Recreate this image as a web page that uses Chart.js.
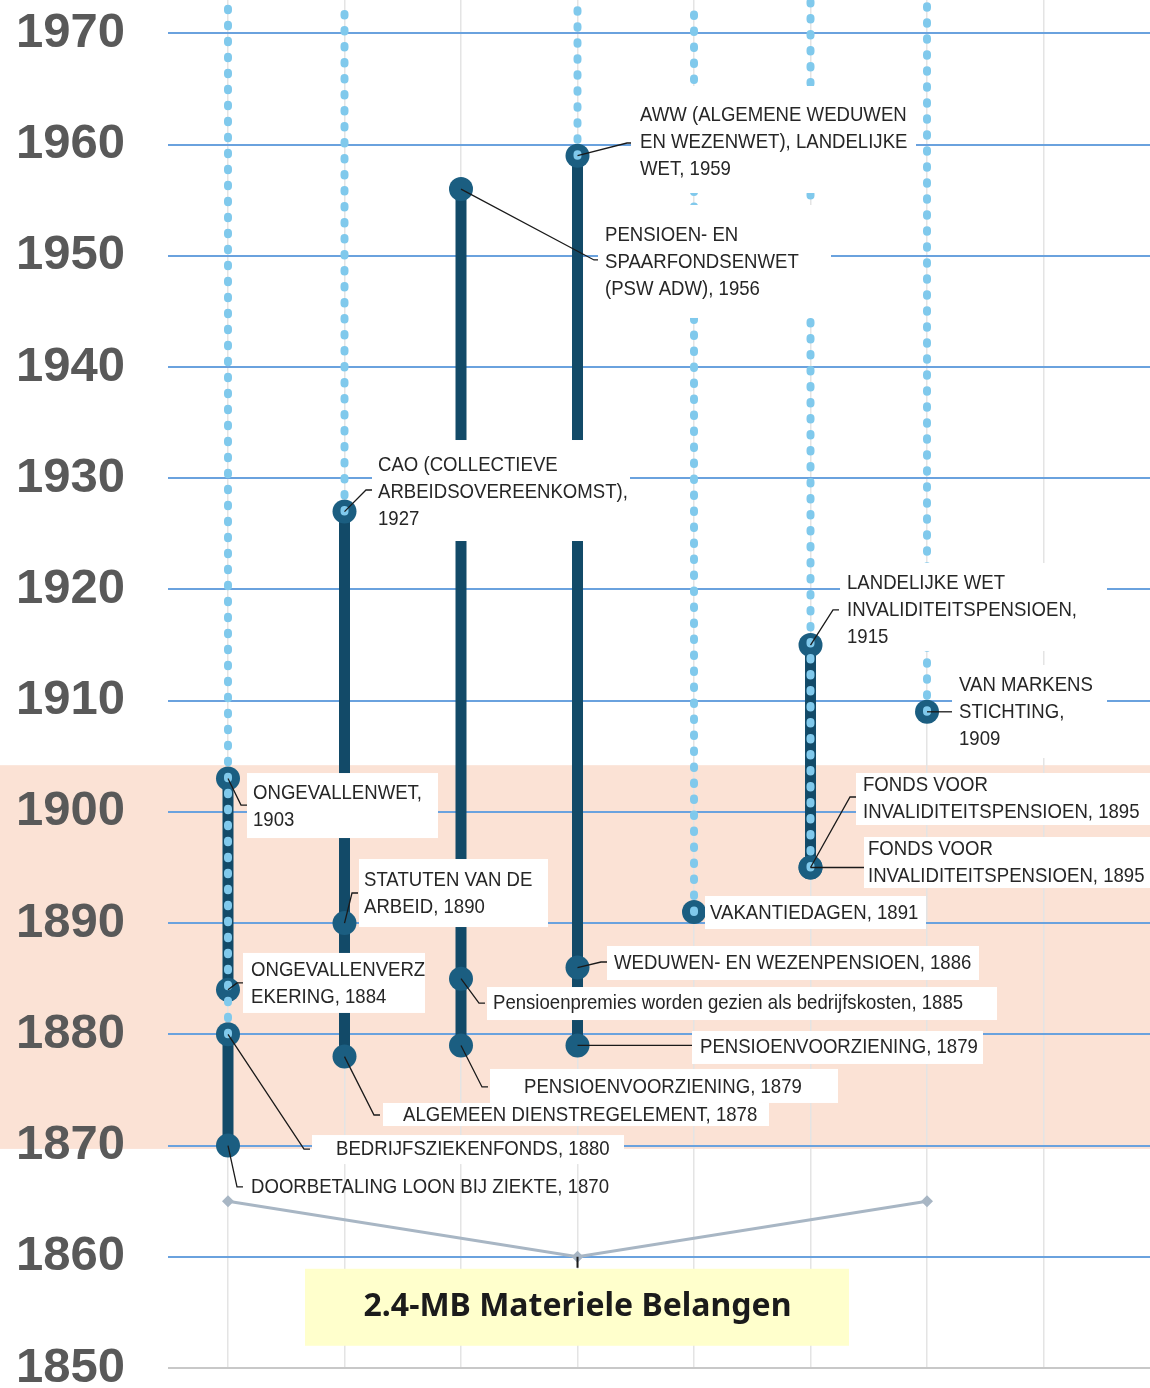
<!DOCTYPE html>
<html><head><meta charset="utf-8">
<script src="https://cdn.jsdelivr.net/npm/chart.js@4/dist/chart.umd.min.js"></script>
<style>html,body{margin:0;padding:0;background:#fff}#wrap{width:1150px;height:1388px;position:relative}</style>
</head><body><div id="wrap"><canvas id="c"></canvas></div>
<script>
// ---------- DATA ----------
const yTicks = [1850,1860,1870,1880,1890,1900,1910,1920,1930,1940,1950,1960,1970];
const yRange = [1850, 1973];
const columnSlots = [0,1,2,3,4,5,6,7];

const eventCols  = [3,2,1,5,6,5,5,4,3,2,3,2,1,0,0,0,1,0];
const eventYears = [1959,1956,1927,1915,1909,1895,1895,1891,1886,1885,1879,1879,1878,1880,1870,1903,1890,1884];
const eventLabels = [
  ["AWW (ALGEMENE WEDUWEN","EN WEZENWET), LANDELIJKE","WET, 1959"],
  ["PENSIOEN- EN","SPAARFONDSENWET","(PSW ADW), 1956"],
  ["CAO (COLLECTIEVE","ARBEIDSOVEREENKOMST),","1927"],
  ["LANDELIJKE WET","INVALIDITEITSPENSIOEN,","1915"],
  ["VAN MARKENS","STICHTING,","1909"],
  ["FONDS VOOR","INVALIDITEITSPENSIOEN, 1895"],
  ["FONDS VOOR","INVALIDITEITSPENSIOEN, 1895"],
  ["VAKANTIEDAGEN, 1891"],
  ["WEDUWEN- EN WEZENPENSIOEN, 1886"],
  ["Pensioenpremies worden gezien als bedrijfskosten, 1885"],
  ["PENSIOENVOORZIENING, 1879"],
  ["PENSIOENVOORZIENING, 1879"],
  ["ALGEMEEN DIENSTREGELEMENT, 1878"],
  ["BEDRIJFSZIEKENFONDS, 1880"],
  ["DOORBETALING LOON BIJ ZIEKTE, 1870"],
  ["ONGEVALLENWET,","1903"],
  ["STATUTEN VAN DE","ARBEID, 1890"],
  ["ONGEVALLENVERZ","EKERING, 1884"]
];

const solidCols = [0,0,1,2,3,5];
const solidFrom = [1870,1884,1878,1879,1879,1895];
const solidTo   = [1880,1903,1927,1956,1959,1915];

const dottedCols = [0,1,3,4,5,6];
const dottedFrom = [1880,1927,1959,1891,1895,1909];
const dottedTo   = 1973;

const groupCols  = [0,3,6];
const groupYears = [1865,1860,1865];
const groupTitle = "2.4-MB Materiele Belangen";

const bandYears = [1869.7, 1904.2];

// ---------- LAYOUT (pixel offsets relative to each marker) ----------
const labelLayout = [
  {tx:62.5, ty:-40.7, box:[53.5,-69.7,285,107], lead:[55.5,-12.7]},
  {tx:144,  ty:45.9,  box:[137,15.9,233,113],  lead:[139,70.9]},
  {tx:33.5, ty:-46.6, box:[27.5,-71.6,258,101], lead:[27.5,-21.6]},
  {tx:36.5, ty:-62.1, box:[29.5,-82.1,267,88], lead:[28.5,-35.1]},
  {tx:32,   ty:-26.8, box:[25,-46.8,155,93],   lead:[25,0]},
  {tx:52.5, ty:-82.5, box:[45.5,-94.5,300,52], lead:[45.5,-70.5]},
  {tx:57.5, ty:-18.5, box:[53.5,-30.5,300,51], lead:[53.5,0]},
  {tx:16,   ty:1,     box:[11,-16,221,33],     lead:null},
  {tx:36.5, ty:-4.6,  box:[29.5,-21.6,372,34], lead:[29.5,-5.6]},
  {tx:32,   ty:24.3,  box:[26,8.3,510,33],     lead:[24,24.3]},
  {tx:122.5,ty:1.5,   box:[114.5,-14.5,291,33],lead:[114.5,0]},
  {tx:63,   ty:41.5,  box:[29,23.5,348,34],    lead:[27,41.5]},
  {tx:58.5, ty:58.4,  box:[38.5,46.4,386,23],  lead:[35.5,58.4]},
  {tx:108,  ty:114.7, box:[84,100.7,312,29],   lead:[82,114.7]},
  {tx:23,   ty:41.4,  box:null,                lead:[15,41.4]},
  {tx:25,   ty:14.5,  box:[19,-5.5,191,65],    lead:[19,26.5]},
  {tx:19.5, ty:-43.1, box:[14.5,-64.1,189,68], lead:[13.5,-30.1]},
  {tx:23,   ty:-19.9, box:[15,-36.9,182,60],   lead:[15,-6.9]}
];
const titleLayout = {box:[-272.5,12,544,77], ty:50, lead:[0,11]};

const DARK = '#124A68', MARK = '#1B5E81', DOT = '#80C9EC', GRAYL = '#A8B6C4';

// ---------- DATASETS ----------
const datasets = [];
solidCols.forEach((c,i)=>datasets.push({
  data:[{x:c,y:solidFrom[i]},{x:c,y:solidTo[i]}],
  borderColor:DARK, borderWidth:11, pointRadius:0, order:3, borderCapStyle:'butt'
}));
datasets.push({
  data:eventCols.map((c,i)=>({x:c,y:eventYears[i]})),
  showLine:false, pointRadius:12, pointBackgroundColor:MARK, pointBorderWidth:0, order:2
});
dottedCols.forEach((c,i)=>datasets.push({
  data:[{x:c,y:dottedFrom[i]},{x:c,y:dottedTo}],
  borderColor:DOT, borderWidth:8, borderDash:[1.5,14.5], borderCapStyle:'round', pointRadius:0, order:1
}));
datasets.push({
  data:groupCols.map((c,i)=>({x:c,y:groupYears[i]})),
  borderColor:GRAYL, borderWidth:3, pointStyle:'rectRot', pointRadius:6,
  pointBackgroundColor:GRAYL, pointBorderWidth:0, order:4
});

function drawScaledText(ctx, str, x, y, sx){
  ctx.save(); ctx.translate(x,y); ctx.scale(sx,1); ctx.fillText(str,0,0); ctx.restore();
}

const bandPlugin = {
  id:'band',
  beforeDraw(chart){
    const y = chart.scales.y, ctx = chart.ctx;
    const t = y.getPixelForValue(bandYears[1]), b = y.getPixelForValue(bandYears[0]);
    ctx.save(); ctx.fillStyle='#FBE2D5'; ctx.fillRect(0,t,chart.width,b-t); ctx.restore();
  }
};

const labelPlugin = {
  id:'labels',
  afterDatasetsDraw(chart){
    const ctx = chart.ctx, xs = chart.scales.x, ys = chart.scales.y;
    ctx.save();
    ctx.strokeStyle='#1a1a1a'; ctx.lineWidth=1.3;
    eventCols.forEach((c,i)=>{
      const L = labelLayout[i]; if(!L.lead) return;
      const mx = xs.getPixelForValue(c), my = ys.getPixelForValue(eventYears[i]);
      const ex = mx+L.lead[0], ey = my+L.lead[1];
      ctx.beginPath(); ctx.moveTo(mx,my);
      if (Math.abs(ey-my) > 2) { ctx.lineTo(ex-6, ey); }
      ctx.lineTo(ex,ey); ctx.stroke();
    });
    ctx.fillStyle='#ffffff';
    eventCols.forEach((c,i)=>{
      const L = labelLayout[i]; if(!L.box) return;
      const mx = xs.getPixelForValue(c), my = ys.getPixelForValue(eventYears[i]);
      ctx.fillRect(mx+L.box[0], my+L.box[1], L.box[2], L.box[3]);
    });
    ctx.fillStyle='#262626'; ctx.font='21px "Liberation Sans", Arial, sans-serif';
    ctx.textBaseline='middle'; ctx.textAlign='left';
    eventCols.forEach((c,i)=>{
      const L = labelLayout[i];
      const mx = xs.getPixelForValue(c), my = ys.getPixelForValue(eventYears[i]);
      eventLabels[i].forEach((line,k)=>drawScaledText(ctx, line, mx+L.tx, my+L.ty+k*27.3, 0.885));
    });
    const gx = xs.getPixelForValue(groupCols[1]), gy = ys.getPixelForValue(groupYears[1]);
    ctx.strokeStyle='#1a1a1a'; ctx.lineWidth=2;
    ctx.beginPath(); ctx.moveTo(gx,gy); ctx.lineTo(gx+titleLayout.lead[0], gy+titleLayout.lead[1]); ctx.stroke();
    const B = titleLayout.box;
    ctx.fillStyle='#FFFFCC'; ctx.fillRect(gx+B[0], gy+B[1], B[2], B[3]);
    ctx.fillStyle='#1b1b1b'; ctx.font='bold 32px "Noto Sans", "Open Sans", sans-serif';
    ctx.textAlign='center';
    ctx.fillText(groupTitle, gx, gy+titleLayout.ty);
    ctx.restore();
  }
};

new Chart(document.getElementById('c'), {
  type:'line',
  data:{datasets},
  options:{
    responsive:true, maintainAspectRatio:false, animation:false, devicePixelRatio:1,
    events:[],
    layout:{autoPadding:false, padding:{top:0,bottom:20,left:0,right:0}},
    plugins:{legend:{display:false}, tooltip:{enabled:false}},
    scales:{
      x:{
        type:'linear', min:-0.515, max:7.914, position:'bottom',
        afterBuildTicks(s){ s.ticks = columnSlots.map(v=>({value:v})); },
        afterFit(s){ s.height = 0; s.paddingLeft=0; s.paddingRight=0; },
        ticks:{display:false},
        grid:{color:'#E4E4E4', lineWidth:1.5, drawTicks:false},
        border:{display:false}
      },
      y:{
        type:'linear', min:yRange[0], max:yRange[1],
        afterBuildTicks(s){ s.ticks = yTicks.map(v=>({value:v})); },
        afterFit(s){ s.width = 168; s.paddingTop=0; s.paddingBottom=0; },
        ticks:{padding:43, color:'#595959', callback:(v)=>String(v),
               font:{family:'"Liberation Sans", Arial, sans-serif', size:49, weight:'bold'}},
        grid:{drawTicks:false, lineWidth:2, color:(ctx)=> ctx.tick && ctx.tick.value===1850 ? '#C8C8C8' : '#6AA2DE'},
        border:{display:false}
      }
    }
  },
  plugins:[bandPlugin, labelPlugin]
});
</script>
</body></html>
